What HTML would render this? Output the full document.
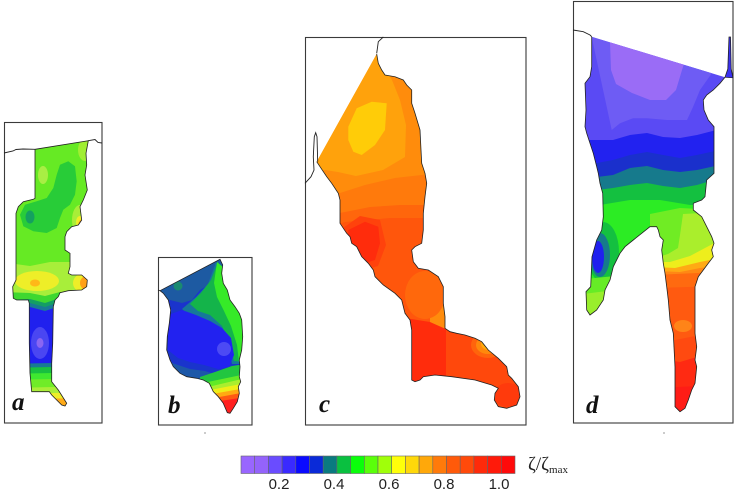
<!DOCTYPE html>
<html><head><meta charset="utf-8"><style>
html,body{margin:0;padding:0;background:#fff;}
svg{display:block;}
</style></head><body>
<svg width="735" height="499" viewBox="0 0 735 499" xmlns="http://www.w3.org/2000/svg">
<defs>
<clipPath id="ca"><path d="M35,149.3 L88.3,140.7 L86,153.3 L86.7,165 L85,175 L87.3,190 L83.3,200 L80,206.7 L81.7,220 L78.3,225 L71.7,226.7 L66.7,231.7 L65,236.7 L65,250 L70,253.3 L70,266.7 L68.3,273.3 L71.7,275 L81.7,275 L87.3,280 L86.7,286.7 L81.7,290 L68.3,290.7 L60,292.7 L58.3,296.7 L55,300 L53.3,306.7 L52.7,343.3 L51.7,363.3 L51.7,381.7 L58.3,390 L66.7,403.3 L65,406 L61.7,405 L51.7,395 L49.3,391.7 L31.7,391.7 L30,373.3 L29.3,343.3 L29.3,303.3 L28.3,300 L16.7,300 L13.3,298.3 L12.7,286.7 L16,280 L16,213.3 L18.3,206.7 L23.3,201.7 L33.3,199.3 L35,198.3 Z"/></clipPath>
<clipPath id="cb"><path d="M160,290.7 L220,259.3 L222.7,265 L221.7,273.3 L223.3,283.3 L227.3,290 L230,300 L235,306.7 L239.3,313.3 L241.7,320 L242.7,336.7 L241.7,350 L239.3,360 L240,366.7 L239.3,376.7 L240.7,381.7 L238.3,386.7 L239.3,393.3 L237.3,401.7 L233.3,408.3 L230,413.3 L227.3,412.7 L223.3,403.3 L218.3,396.7 L213.3,391.7 L209.3,383.3 L203.3,380 L196.7,378.3 L186.7,376.7 L180,373.3 L173.3,366.7 L170,360 L166.7,350 L167.3,336.7 L169.3,323.3 L170.7,310 L168.3,300 L163.3,293.3 Z"/></clipPath>
<clipPath id="cc"><path d="M376.7,54 L316.7,161.7 L320,166.7 L326.7,176.7 L331.7,183.3 L338.3,193.3 L340,200 L340,223.3 L346.7,233.3 L350,236.7 L351.7,243.3 L356.7,246.7 L361.7,256.7 L368.3,263.3 L373.3,270 L375,276.7 L383.3,285 L395,293.3 L401.7,300 L405,313.3 L410,320 L411.7,330 L411.7,380 L415,381.7 L420,380 L423.3,376.7 L435,375 L451.7,376.7 L475,380 L491.7,385 L498.3,388.3 L495,393.3 L494.3,400 L498.3,406.7 L506.7,408.3 L516.7,405 L520,396.7 L518.3,386.7 L511.7,378.3 L508.3,375 L506.7,366.7 L498.3,358.3 L488.3,350 L481.7,341.7 L475,338.3 L465,335 L456.7,333.3 L450,331.7 L445,328.3 L445,316.7 L443.3,303.3 L443.3,286.7 L438.3,276.7 L428.3,270 L418.3,268.3 L413.3,261.7 L411.7,250 L415,246.7 L421.7,243.3 L423.3,230 L423.3,213.3 L425,196.7 L426.7,183.3 L425,173.3 L421.7,163.3 L421,150 L420,130 L415,113.3 L411.7,103.3 L411.7,90 L406.7,85 L403.3,80 L395,76.7 L385,75 L381.7,70 L378.3,63.3 Z"/></clipPath>
<clipPath id="cd"><path d="M591.7,36.7 L725,77.3 L720,83.3 L713.3,90 L706.7,95 L703.3,100 L704,110 L708.3,120 L714,126.7 L714,173.3 L706.7,180 L705,196.7 L701.7,200 L693.3,203.3 L693.3,210 L701.7,216.7 L706.7,226.7 L711.7,236.7 L714,243.3 L711.7,250 L713.3,256.7 L708.3,263.3 L703.3,270 L698.3,276.7 L695,286.7 L695,333.3 L696.7,346.7 L695,360 L696.7,366.7 L695,383.3 L691.7,390 L688.3,400 L685,408.3 L680,411.7 L675,406.7 L675,366.7 L673.3,333.3 L670,320 L668.3,300 L666.7,286.7 L665,273.3 L663.3,263.3 L661.7,250 L663.3,240 L660,236.7 L658.3,230 L656.7,226.7 L650,226.7 L641.7,233.3 L633.3,240 L625,246.7 L620,253.3 L613.3,266.7 L610,280 L605,290 L603.3,300 L596.7,310 L590,315 L586.7,310 L586,291.7 L590.7,286.7 L592,256.7 L596.7,240 L601.7,230 L603.3,216.7 L602.7,193.3 L600,183.3 L598.3,173.3 L596.7,166.7 L593.3,153.3 L590,143.3 L586.7,133.3 L585,126.7 L586,110 L585,83.3 L590,76.7 L591.7,66.7 Z"/></clipPath>
</defs>

<!-- frames -->
<g fill="none" stroke="#3a3a3a" stroke-width="1.1">
<rect x="4.5" y="122.5" width="97.5" height="300.5"/>
<rect x="158.5" y="257.5" width="93.5" height="167.5"/>
<rect x="305.5" y="37.5" width="220.5" height="387.5"/>
<rect x="573.5" y="1.5" width="159.5" height="421.5"/>
</g>

<!-- PANEL A -->
<g clip-path="url(#ca)">
<rect x="0" y="130" width="110" height="290" fill="#66ea24"/>
<ellipse cx="85" cy="150" rx="7" ry="11" fill="#a0ee32"/>
<path d="M60,164.7 L68.3,161.3 L75,166.3 L76.7,181.3 L75,194.7 L70,204.7 L63.3,209.7 L60,218 L56.7,228 L46.7,233 L33.3,231.3 L23.3,226.3 L20,214.7 L25,204.7 L36.7,201.3 L46.7,198 L53.3,188 L56.7,174.7 Z" fill="#28cc38"/>
<ellipse cx="43" cy="175" rx="5" ry="9" fill="#a8ee44"/>
<ellipse cx="30" cy="217" rx="4.5" ry="6.5" fill="#14a060"/>
<ellipse cx="80" cy="220" rx="8" ry="15" fill="#a8ee38"/>
<ellipse cx="80" cy="222" rx="4" ry="6" fill="#eeee28"/>
<ellipse cx="81" cy="224" rx="2.5" ry="4" fill="#ffa818"/>
<path d="M0,262 L30,266 L50,262 L70,262 L110,262 L110,300 L0,300 Z" fill="#a8ee3a"/>
<ellipse cx="37" cy="281" rx="22" ry="10" fill="#eeee28"/>
<ellipse cx="35" cy="283" rx="5" ry="3.5" fill="#ffb818"/>
<ellipse cx="85" cy="283" rx="12" ry="10" fill="#eeee28"/>
<ellipse cx="87" cy="283" rx="7" ry="7" fill="#ffa018"/>
<path d="M0,292 L30,293 L45,296 L60,292 L110,290 L110,420 L0,420 Z" fill="#3ed830"/>
<path d="M0,300 L30,299 L45,303 L60,298 L110,298 L110,420 L0,420 Z" fill="#149e64"/>
<path d="M0,304 L30,303 L45,307 L60,302 L110,302 L110,420 L0,420 Z" fill="#187a94"/>
<path d="M0,308 L30,307 L45,311 L60,306 L110,306 L110,420 L0,420 Z" fill="#2020ee"/>
<ellipse cx="40" cy="343" rx="9" ry="16" fill="#4a46f2"/>
<ellipse cx="40" cy="343" rx="3.5" ry="5" fill="#8a66f2"/>
<path d="M0,364 L110,362 L110,420 L0,420 Z" fill="#187a94"/>
<path d="M0,368 L110,366 L110,420 L0,420 Z" fill="#18c040"/>
<path d="M0,374 L110,372 L110,420 L0,420 Z" fill="#3ee830"/>
<path d="M0,380 L110,378 L110,420 L0,420 Z" fill="#70ec28"/>
<path d="M0,388 L110,386 L110,420 L0,420 Z" fill="#aaee38"/>
<path d="M0,394 L110,392 L110,420 L0,420 Z" fill="#eeee28"/>
<path d="M0,399 L110,398 L110,420 L0,420 Z" fill="#ffaa18"/>
</g>
<path d="M35,149.3 L88.3,140.7 L86,153.3 L86.7,165 L85,175 L87.3,190 L83.3,200 L80,206.7 L81.7,220 L78.3,225 L71.7,226.7 L66.7,231.7 L65,236.7 L65,250 L70,253.3 L70,266.7 L68.3,273.3 L71.7,275 L81.7,275 L87.3,280 L86.7,286.7 L81.7,290 L68.3,290.7 L60,292.7 L58.3,296.7 L55,300 L53.3,306.7 L52.7,343.3 L51.7,363.3 L51.7,381.7 L58.3,390 L66.7,403.3 L65,406 L61.7,405 L51.7,395 L49.3,391.7 L31.7,391.7 L30,373.3 L29.3,343.3 L29.3,303.3 L28.3,300 L16.7,300 L13.3,298.3 L12.7,286.7 L16,280 L16,213.3 L18.3,206.7 L23.3,201.7 L33.3,199.3 L35,198.3 L35,149.3" fill="none" stroke="#222" stroke-width="0.8"/>
<path d="M4,153 L13,151 L16,149.5 L23,149 L35,149.3 M88.3,140.7 L95,139.5 L98,142.5 L102,143" fill="none" stroke="#222" stroke-width="0.9"/>

<!-- PANEL B -->
<g clip-path="url(#cb)">
<rect x="150" y="250" width="100" height="170" fill="#1a34cc"/>
<path d="M150,285 L225,250 L226,272 L212,283 L200,290 L192,300 L182,303 L170,300 L160,303 L150,300 Z" fill="#1d5aa2"/>
<circle cx="178" cy="286" r="4.5" fill="#1a8a70"/>
<path d="M182,309 L196,297 L208,284 L216,262 L232,290 L246,318 L246,364 L232,364 L226,342 L218,327 L205,319 L190,316 Z" fill="#16789a"/>
<path d="M190,304 L201,293 L211,280 L218,262 L231,290 L245,320 L245,362 L234,361 L229,341 L222,326 L210,315 L198,311 Z" fill="#14b44a"/>
<path d="M217,262 L224,268 L229,290 L240,310 L245,330 L245,362 L239,362 L237,345 L231,326 L224,311 L217,297 L214,283 Z" fill="#36ea28"/>
<path d="M168,315 L182,310 L196,315 L210,321 L222,328 L231,338 L234,355 L229,367 L218,369 L204,365 L190,362 L178,358 L168,350 Z" fill="#2222f0"/>
<ellipse cx="224" cy="349" rx="7" ry="7" fill="#4c4af4"/>
<path d="M160,356 L172,363 L190,369 L205,371 L214,374 L214,390 L160,390 Z" fill="#1d58a8"/>
<path d="M200,377 L215,372 L232,366 L246,364 L246,420 L200,420 Z" fill="#22c640"/>
<path d="M203,383 L246,374 L246,420 L203,420 Z" fill="#62ea26"/>
<path d="M208,387 L246,378 L246,420 L208,420 Z" fill="#aaee2e"/>
<path d="M210,390 L246,383 L246,420 L210,420 Z" fill="#eeee18"/>
<path d="M212,394 L246,388 L246,420 L212,420 Z" fill="#ffaa12"/>
<path d="M214,398 L246,392 L246,420 L214,420 Z" fill="#ff5a12"/>
<path d="M214,402 L246,397 L246,420 L214,420 Z" fill="#ff2020"/>
</g>
<path d="M160,290.7 L220,259.3 L222.7,265 L221.7,273.3 L223.3,283.3 L227.3,290 L230,300 L235,306.7 L239.3,313.3 L241.7,320 L242.7,336.7 L241.7,350 L239.3,360 L240,366.7 L239.3,376.7 L240.7,381.7 L238.3,386.7 L239.3,393.3 L237.3,401.7 L233.3,408.3 L230,413.3 L227.3,412.7 L223.3,403.3 L218.3,396.7 L213.3,391.7 L209.3,383.3 L203.3,380 L196.7,378.3 L186.7,376.7 L180,373.3 L173.3,366.7 L170,360 L166.7,350 L167.3,336.7 L169.3,323.3 L170.7,310 L168.3,300 L163.3,293.3 L160,290.7 L158,290" fill="none" stroke="#222" stroke-width="0.8"/>

<!-- PANEL C -->
<g clip-path="url(#cc)">
<rect x="300" y="40" width="230" height="380" fill="#ff8c0c"/>
<path d="M300,170 L370,40 L380,60 L392,80 L400,100 L406,125 L405,157 L383,170 L356,176 L338,172 L325,170 Z" fill="#ffa20c"/>
<path d="M348.3,126.7 L356.7,108.3 L371.7,101.7 L386.7,103.3 L385,130 L375,145 L361.7,155 L353.3,151.7 L348.3,140 Z" fill="#ffcc08"/>
<path d="M300,205 L320,200 L340,193 L365,185 L395,178 L430,174 L430,420 L300,420 Z" fill="#ff7a0c"/>
<path d="M300,220 L345,212 L370,207 L400,205 L430,205 L430,420 L300,420 Z" fill="#ff660c"/>
<path d="M300,236 L345,222 L390,218 L430,218 L430,420 L300,420 Z" fill="#ff560c"/>
<path d="M343,228 L360,216 L380,220 L386,245 L378,266 L362,271 L348,258 L342,242 Z" fill="#ff420c"/>
<path d="M348.3,230 L365,221.7 L378.3,226.7 L380,243.3 L375,260 L365,263.3 L355,256.7 L348.3,243.3 Z" fill="#ff2c0c"/>
<ellipse cx="425" cy="295" rx="20" ry="24" fill="#ff680c"/>
<path d="M380,325 L405,318 L430,322 L448,330 L448,420 L380,420 Z" fill="#ff2c0c"/>
<path d="M446,326 L530,326 L530,420 L446,420 Z" fill="#ff480c"/>
<ellipse cx="508" cy="395" rx="14" ry="12" fill="#ff3a0c"/>
<ellipse cx="488" cy="345" rx="17" ry="13" fill="#ff640c"/>
<ellipse cx="488" cy="345" rx="12" ry="9" fill="#ff880c"/>
<ellipse cx="489" cy="344" rx="8" ry="6" fill="#ffaa0c"/>
<ellipse cx="490" cy="343" rx="4" ry="4" fill="#ffcc08"/>
</g>
<path d="M376.7,54 L378.3,63.3 L381.7,70 L385,75 L395,76.7 L403.3,80 L406.7,85 L411.7,90 L411.7,103.3 L415,113.3 L420,130 L421,150 L421.7,163.3 L425,173.3 L426.7,183.3 L425,196.7 L423.3,213.3 L423.3,230 L421.7,243.3 L415,246.7 L411.7,250 L413.3,261.7 L418.3,268.3 L428.3,270 L438.3,276.7 L443.3,286.7 L443.3,303.3 L445,316.7 L445,328.3 L450,331.7 L456.7,333.3 L465,335 L475,338.3 L481.7,341.7 L488.3,350 L498.3,358.3 L506.7,366.7 L508.3,375 L511.7,378.3 L518.3,386.7 L520,396.7 L516.7,405 L506.7,408.3 L498.3,406.7 L494.3,400 L495,393.3 L498.3,388.3 L491.7,385 L475,380 L451.7,376.7 L435,375 L423.3,376.7 L420,380 L415,381.7 L411.7,380 L411.7,330 L410,320 L405,313.3 L401.7,300 L395,293.3 L383.3,285 L375,276.7 L373.3,270 L368.3,263.3 L361.7,256.7 L356.7,246.7 L351.7,243.3 L350,236.7 L346.7,233.3 L340,223.3 L340,200 L338.3,193.3 L331.7,183.3 L326.7,176.7 L320,166.7 L316.7,161.7" fill="none" stroke="#222" stroke-width="0.8"/>
<path d="M383.3,37 L378.3,41.7 L376.7,53.3 M305,183.3 L311,176.7 L314,170 L313.3,156.7 L314.3,136.7 L315.7,132.7 L317,136.7 L317.7,161.7" fill="none" stroke="#222" stroke-width="0.9"/>

<!-- PANEL D -->
<g clip-path="url(#cd)">
<rect x="580" y="30" width="150" height="390" fill="#5a4af4"/>
<path d="M591.7,37 L712,73 L700,90 L693,107 L687,120 L667,120 L647,118.3 L633,118.3 L620,123.3 L611.7,130 Z" fill="#6e5cf4"/>
<path d="M610,42 L684,64 L682,70 L676,90 L666,100 L650,100 L632,93 L616,84 L611,70 Z" fill="#9a6cf6"/>
<path d="M575,140 L593,140 L613,140 L630,135 L647,133 L663,137 L680,138 L697,135 L720,129 L720,420 L575,420 Z" fill="#2222f0"/>
<path d="M575,163 L597,163 L613,160 L630,155 L647,152 L663,155 L680,158 L697,155 L720,150 L720,420 L575,420 Z" fill="#1a30cc"/>
<path d="M575,177 L597,177 L613,175 L630,168 L647,166 L663,170 L680,172 L697,170 L720,165 L720,420 L575,420 Z" fill="#167a8c"/>
<path d="M575,190 L597,190 L613,188 L630,185 L647,183 L663,186 L680,188 L697,185 L720,178 L720,420 L575,420 Z" fill="#14c040"/>
<path d="M575,206 L600,205 L630,200 L660,200 L690,205 L720,205 L720,420 L575,420 Z" fill="#2cec24"/>
<!-- left branch -->
<ellipse cx="603" cy="252" rx="16" ry="30" fill="#14c040"/>
<ellipse cx="600" cy="255" rx="10" ry="22" fill="#167a8c"/>
<ellipse cx="598" cy="257" rx="6" ry="16" fill="#2020ee"/>
<path d="M575,280 L615,276 L615,330 L575,330 Z" fill="#66ec26"/>
<path d="M575,295 L615,290 L615,330 L575,330 Z" fill="#99ee2c"/>
<!-- right branch -->
<path d="M650,214 L680,208 L720,210 L720,420 L650,420 Z" fill="#70ec24"/>
<path d="M683,214 L720,212 L720,420 L655,420 L655,258 L668,254 L678,248 L680,235 Z" fill="#aaee2c"/>
<path d="M655,262 L670,262 L690,256 L705,248 L720,240 L720,420 L655,420 Z" fill="#eeee1c"/>
<path d="M655,267 L675,268 L700,262 L720,258 L720,420 L655,420 Z" fill="#ffaa14"/>
<path d="M655,271 L680,272 L700,268 L720,266 L720,420 L655,420 Z" fill="#ff8814"/>
<path d="M655,275 L720,272 L720,420 L655,420 Z" fill="#ff6a10"/>
<path d="M655,288 L720,286 L720,420 L655,420 Z" fill="#ff5a10"/>
<ellipse cx="683" cy="326" rx="9" ry="6" fill="#ff8418"/>
<path d="M655,338 L675,340 L700,335 L720,335 L720,420 L655,420 Z" fill="#ff4a10"/>
<path d="M655,358 L680,362 L700,356 L720,356 L720,420 L655,420 Z" fill="#ff2a12"/>
<path d="M655,388 L720,385 L720,420 L655,420 Z" fill="#ff1c16"/>
</g>
<path d="M725,77.3 L720,83.3 L713.3,90 L706.7,95 L703.3,100 L704,110 L708.3,120 L714,126.7 L714,173.3 L706.7,180 L705,196.7 L701.7,200 L693.3,203.3 L693.3,210 L701.7,216.7 L706.7,226.7 L711.7,236.7 L714,243.3 L711.7,250 L713.3,256.7 L708.3,263.3 L703.3,270 L698.3,276.7 L695,286.7 L695,333.3 L696.7,346.7 L695,360 L696.7,366.7 L695,383.3 L691.7,390 L688.3,400 L685,408.3 L680,411.7 L675,406.7 L675,366.7 L673.3,333.3 L670,320 L668.3,300 L666.7,286.7 L665,273.3 L663.3,263.3 L661.7,250 L663.3,240 L660,236.7 L658.3,230 L656.7,226.7 L650,226.7 L641.7,233.3 L633.3,240 L625,246.7 L620,253.3 L613.3,266.7 L610,280 L605,290 L603.3,300 L596.7,310 L590,315 L586.7,310 L586,291.7 L590.7,286.7 L592,256.7 L596.7,240 L601.7,230 L603.3,216.7 L602.7,193.3 L600,183.3 L598.3,173.3 L596.7,166.7 L593.3,153.3 L590,143.3 L586.7,133.3 L585,126.7 L586,110 L585,83.3 L590,76.7 L591.7,66.7 L591.7,36.7" fill="none" stroke="#222" stroke-width="0.8"/>
<path d="M573,30 L583.3,31.7 L590,35 L591.7,36.7" fill="none" stroke="#222" stroke-width="0.9"/>
<path d="M725,77.3 L727.8,69 L729,37 L730.5,37 L731.2,69 L733,78" fill="#3a30f0" stroke="#222" stroke-width="0.8"/>
<line x1="725" y1="77.3" x2="733" y2="77.8" stroke="#222" stroke-width="0.6"/>

<!-- labels -->
<g font-family="'Liberation Serif', serif" font-weight="bold" font-style="italic" font-size="25" fill="#111">
<text x="12" y="410">a</text>
<text x="168" y="413">b</text>
<text x="319" y="412">c</text>
<text x="586" y="413">d</text>
</g>
<rect x="204" y="432" width="2" height="2" fill="#ccc"/>
<rect x="663" y="432" width="2" height="2" fill="#ccc"/>

<!-- colorbar -->
<g stroke="#666" stroke-width="0.6">
<rect x="241" y="456" width="13.7" height="17.5" fill="#9966ff"/>
<rect x="254.7" y="456" width="13.7" height="17.5" fill="#9463fb"/>
<rect x="268.4" y="456" width="13.7" height="17.5" fill="#6a4cff"/>
<rect x="282.1" y="456" width="13.7" height="17.5" fill="#3a2aff"/>
<rect x="295.8" y="456" width="13.7" height="17.5" fill="#0a0aff"/>
<rect x="309.5" y="456" width="13.7" height="17.5" fill="#0a2ad8"/>
<rect x="323.2" y="456" width="13.7" height="17.5" fill="#0a7a80"/>
<rect x="336.9" y="456" width="13.7" height="17.5" fill="#0ac040"/>
<rect x="350.6" y="456" width="13.7" height="17.5" fill="#0aff0a"/>
<rect x="364.3" y="456" width="13.7" height="17.5" fill="#5aff0a"/>
<rect x="378" y="456" width="13.7" height="17.5" fill="#a0ff0a"/>
<rect x="391.7" y="456" width="13.7" height="17.5" fill="#ffff0a"/>
<rect x="405.4" y="456" width="13.7" height="17.5" fill="#ffd80a"/>
<rect x="419.1" y="456" width="13.7" height="17.5" fill="#ffa80a"/>
<rect x="432.8" y="456" width="13.7" height="17.5" fill="#ff7a0a"/>
<rect x="446.5" y="456" width="13.7" height="17.5" fill="#ff5a0a"/>
<rect x="460.2" y="456" width="13.7" height="17.5" fill="#ff4a0a"/>
<rect x="473.9" y="456" width="13.7" height="17.5" fill="#ff2a0a"/>
<rect x="487.6" y="456" width="13.7" height="17.5" fill="#ff1a0a"/>
<rect x="501.3" y="456" width="13.7" height="17.5" fill="#ff0a0a"/>
</g>
<g font-family="'Liberation Sans', sans-serif" font-size="15" fill="#222" text-anchor="middle">
<text x="279" y="489">0.2</text>
<text x="334" y="489">0.4</text>
<text x="389" y="489">0.6</text>
<text x="444" y="489">0.8</text>
<text x="499" y="489">1.0</text>
</g>
<text x="528" y="470" font-family="'Liberation Serif', serif" font-size="19" fill="#222">ζ/ζ<tspan font-size="11" dy="3">max</tspan></text>
</svg>
</body></html>
